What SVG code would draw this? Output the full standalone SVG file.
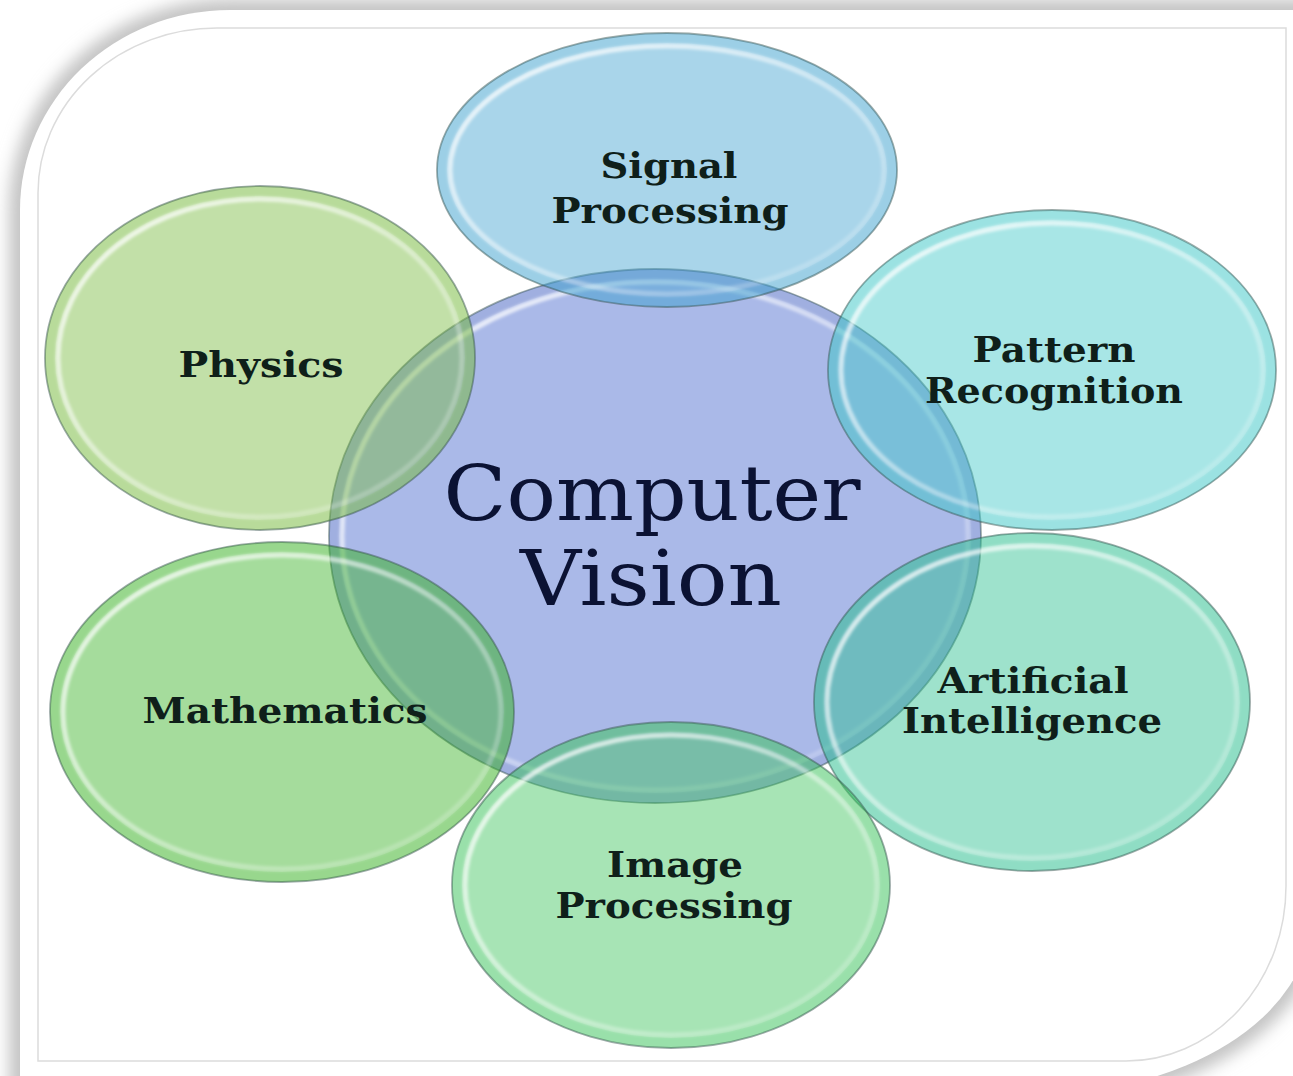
<svg xmlns="http://www.w3.org/2000/svg" width="1293" height="1076" viewBox="0 0 1293 1076">
<style>
.edge{stroke:#3a5652;stroke-opacity:.5;stroke-width:1.8}
.band{fill:none;stroke-width:10;stroke-opacity:.12}
.hl{fill:none;stroke:url(#hlg);stroke-width:5;filter:url(#soft)}
.lbl{font-family:"DejaVu Serif","Liberation Serif",serif;font-weight:bold;font-size:36px;fill:#0f1f1a;text-anchor:middle}
.big{font-family:"DejaVu Serif","Liberation Serif",serif;font-size:76px;fill:#0b1233;text-anchor:middle}
</style>
<defs>
<filter id="sh" x="-10%" y="-10%" width="120%" height="120%"><feGaussianBlur stdDeviation="8"/></filter>
<filter id="soft" x="-5%" y="-5%" width="110%" height="110%"><feGaussianBlur stdDeviation="1.4"/></filter>
<linearGradient id="hlg" x1="0" y1="0" x2="1" y2="1">
<stop offset="0" stop-color="#ffffff" stop-opacity=".85"/>
<stop offset=".5" stop-color="#ffffff" stop-opacity=".45"/>
<stop offset="1" stop-color="#ffffff" stop-opacity=".12"/>
</linearGradient>
</defs>

<g id="frame">
<rect width="1293" height="1076" fill="#ffffff"/>
<path d="M20 210 A210 200 0 0 1 230 10 L1310 10 L1310 920 A279 175 0 0 1 1031 1095 L20 1095 Z" fill="#c4c4c4" stroke="#c4c4c4" stroke-width="22" filter="url(#sh)"/>
<path d="M20 210 A210 200 0 0 1 230 10 L1310 10 L1310 920 A279 175 0 0 1 1031 1095 L20 1095 Z" fill="#ffffff"/>
<path d="M38 193 A179 165 0 0 1 217 28 L1286 28 L1286 886 A160 175 0 0 1 1126 1061 L38 1061 Z" fill="none" stroke="#dcdcdc" stroke-width="1.5"/>
</g>

<g id="connectors"/>

<g id="node-center">
<ellipse cx="655" cy="536" rx="326" ry="267" fill="#aab9e8" class="edge"/>
<ellipse cx="655" cy="536" rx="321" ry="262" class="band" stroke="#5a6fb0"/>
<ellipse cx="655" cy="536" rx="313" ry="254" class="hl"/>
<text class="big" x="652" y="520" textLength="417" lengthAdjust="spacingAndGlyphs">Computer</text>
<text class="big" x="651" y="605" textLength="262" lengthAdjust="spacingAndGlyphs">Vision</text>
</g>

<g id="node-signal">
<ellipse cx="667" cy="170" rx="230" ry="137" fill="#40a2d0" fill-opacity=".45" class="edge"/>
<ellipse cx="667" cy="170" rx="225" ry="132" class="band" stroke="#40a2d0"/>
<ellipse cx="667" cy="170" rx="217" ry="124" class="hl"/>
<text class="lbl" x="669" y="178" textLength="137" lengthAdjust="spacingAndGlyphs">Signal</text>
<text class="lbl" x="670" y="223" textLength="237" lengthAdjust="spacingAndGlyphs">Processing</text>
</g>

<g id="node-pattern">
<ellipse cx="1052" cy="370" rx="224" ry="160" fill="#3ec7c7" fill-opacity=".45" class="edge"/>
<ellipse cx="1052" cy="370" rx="219" ry="155" class="band" stroke="#3ec7c7"/>
<ellipse cx="1052" cy="370" rx="211" ry="147" class="hl"/>
<text class="lbl" x="1054" y="362" textLength="163" lengthAdjust="spacingAndGlyphs">Pattern</text>
<text class="lbl" x="1054" y="403" textLength="258" lengthAdjust="spacingAndGlyphs">Recognition</text>
</g>

<g id="node-ai">
<ellipse cx="1032" cy="702" rx="218" ry="169" fill="#27be8e" fill-opacity=".45" class="edge"/>
<ellipse cx="1032" cy="702" rx="213" ry="164" class="band" stroke="#27be8e"/>
<ellipse cx="1032" cy="702" rx="205" ry="156" class="hl"/>
<text class="lbl" x="1033" y="693" textLength="191" lengthAdjust="spacingAndGlyphs">Artificial</text>
<text class="lbl" x="1032" y="733" textLength="260" lengthAdjust="spacingAndGlyphs">Intelligence</text>
</g>

<g id="node-image">
<ellipse cx="671" cy="885" rx="219" ry="163" fill="#3bc35a" fill-opacity=".45" class="edge"/>
<ellipse cx="671" cy="885" rx="214" ry="158" class="band" stroke="#3bc35a"/>
<ellipse cx="671" cy="885" rx="206" ry="150" class="hl"/>
<text class="lbl" x="675" y="877" textLength="136" lengthAdjust="spacingAndGlyphs">Image</text>
<text class="lbl" x="674" y="918" textLength="237" lengthAdjust="spacingAndGlyphs">Processing</text>
</g>

<g id="node-math">
<ellipse cx="282" cy="712" rx="232" ry="170" fill="#37b123" fill-opacity=".45" class="edge"/>
<ellipse cx="282" cy="712" rx="227" ry="165" class="band" stroke="#37b123"/>
<ellipse cx="282" cy="712" rx="219" ry="157" class="hl"/>
<text class="lbl" x="285" y="723" textLength="285" lengthAdjust="spacingAndGlyphs">Mathematics</text>
</g>

<g id="node-physics">
<ellipse cx="260" cy="358" rx="215" ry="172" fill="#77ba3d" fill-opacity=".45" class="edge"/>
<ellipse cx="260" cy="358" rx="210" ry="167" class="band" stroke="#77ba3d"/>
<ellipse cx="260" cy="358" rx="202" ry="159" class="hl"/>
<text class="lbl" x="261" y="377" textLength="165" lengthAdjust="spacingAndGlyphs">Physics</text>
</g>
</svg>
